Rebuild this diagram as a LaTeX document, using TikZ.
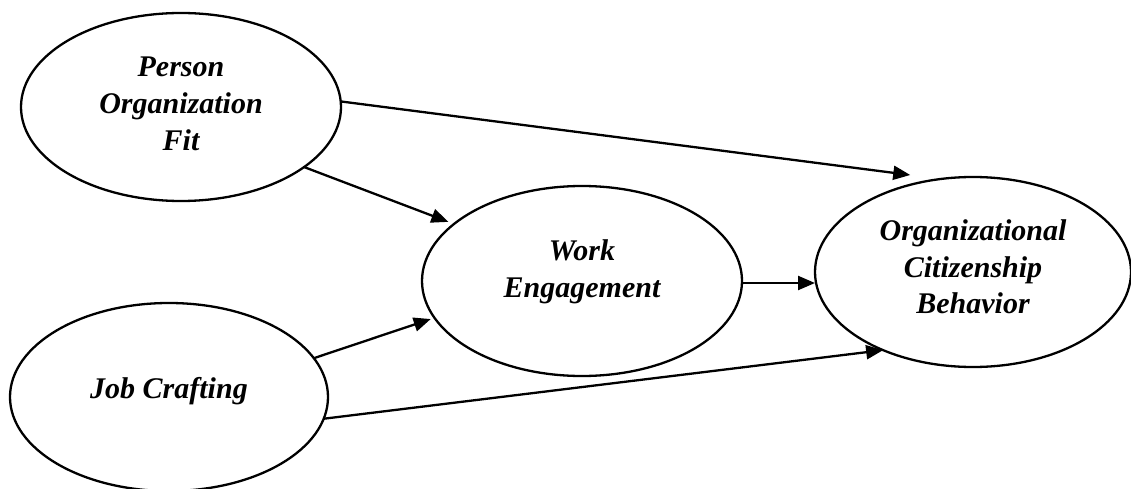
\documentclass[tikz,border=0pt]{standalone}
\usepackage{fontspec}
\setmainfont{Liberation Serif}
\usetikzlibrary{arrows.meta,shapes.geometric}
\begin{document}
\begin{tikzpicture}[x=1pt,y=-1pt,
  oval/.style={draw=black,line width=2.3pt,ellipse,inner sep=0pt,outer sep=0pt},
  lbl/.style={align=center,inner sep=0pt,font=\fontsize{30}{36.7}\selectfont\bfseries\itshape},
  conn/.style={line width=2.3pt,-{Triangle[length=17pt,width=14pt]}}]
\useasboundingbox (0,0) rectangle (1131,489);
\node[oval,minimum width=320pt,minimum height=188pt] (POF) at (181,107) {};
\node[oval,minimum width=318pt,minimum height=188pt] (JC) at (169,397) {};
\node[oval,minimum width=320pt,minimum height=190pt] (WE) at (582,281) {};
\node[oval,minimum width=316pt,minimum height=190pt] (OCB) at (973,272) {};
\node[lbl] (tPOF) at (181,104) {Person\\Organization\\Fit};
\node[lbl] (tJC) at (169,391) {Job Crafting};
\node[lbl] (tWE) at (582,272) {Work\\Engagement};
\node[lbl] (tOCB) at (973,267) {Organizational\\Citizenship\\Behavior};
\draw[conn,shorten >=31pt] (POF.2) -- (OCB.109);
\draw[conn,shorten >=6pt] (POF.-26.6) -- (WE.156);
\draw[conn,shorten >=4pt] (JC.15.3) -- (WE.194.1);
\draw[conn] (JC.-8.6) -- (OCB.221);
\draw[conn] ([yshift=-2pt]WE.east) -- ([yshift=-2pt]WE.east -| OCB.west);
\end{tikzpicture}
\end{document}
